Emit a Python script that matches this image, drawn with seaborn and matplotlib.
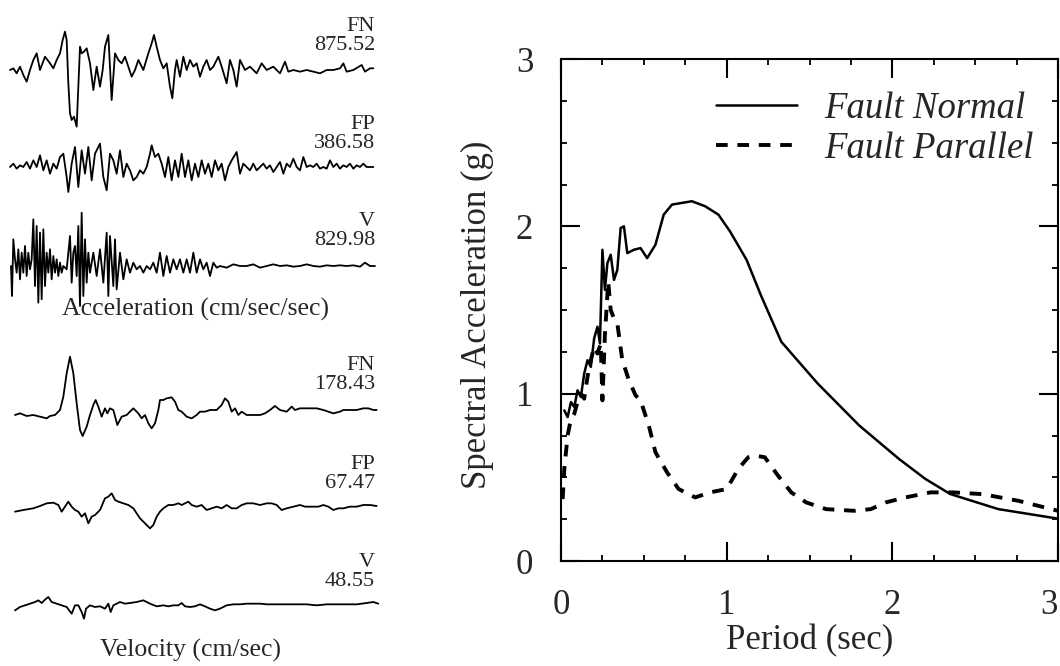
import numpy as np
import matplotlib
matplotlib.use("Agg")
import matplotlib.pyplot as plt
import matplotlib.transforms as mtransforms
from matplotlib.ticker import MultipleLocator
import seaborn as sns

# ---------------- data: spectral acceleration ----------------
period_fn = [0.02, 0.04, 0.06, 0.08, 0.10, 0.12, 0.14, 0.16, 0.18, 0.20, 0.22, 0.235,
             0.25, 0.265, 0.28, 0.30, 0.32, 0.34, 0.36, 0.38, 0.40, 0.44, 0.48, 0.52,
             0.57, 0.62, 0.67, 0.73, 0.79, 0.87, 0.95, 1.02, 1.12, 1.21, 1.33, 1.55,
             1.80, 2.04, 2.20, 2.35, 2.64, 3.02]
sa_fn = [0.90, 0.86, 0.95, 0.92, 1.02, 0.98, 1.12, 1.20, 1.16, 1.33, 1.40, 1.30,
         1.86, 1.62, 1.78, 1.83, 1.68, 1.74, 1.99, 2.00, 1.84, 1.86, 1.87, 1.81,
         1.89, 2.07, 2.13, 2.14, 2.15, 2.12, 2.07, 1.97, 1.80, 1.58, 1.31, 1.06,
         0.81, 0.61, 0.49, 0.40, 0.31, 0.25]

period_fp = [0.01, 0.02, 0.04, 0.06, 0.08, 0.10, 0.12, 0.14, 0.16, 0.18, 0.20, 0.22,
             0.24, 0.25, 0.265, 0.285, 0.30, 0.32, 0.34, 0.37, 0.41, 0.45, 0.48, 0.53,
             0.57, 0.64, 0.71, 0.81, 0.90, 1.00, 1.07, 1.13, 1.17, 1.23, 1.31, 1.39,
             1.48, 1.60, 1.77, 1.87, 1.96, 2.08, 2.23, 2.37, 2.54, 2.76, 3.00]
sa_fp = [0.37, 0.55, 0.75, 0.85, 0.88, 0.95, 1.00, 0.97, 1.10, 1.20, 1.28, 1.24,
         1.30, 0.96, 1.35, 1.67, 1.50, 1.45, 1.42, 1.20, 1.08, 0.99, 0.96, 0.81,
         0.65, 0.53, 0.43, 0.38, 0.41, 0.43, 0.55, 0.62, 0.63, 0.62, 0.51, 0.41,
         0.35, 0.31, 0.30, 0.31, 0.35, 0.38, 0.41, 0.41, 0.40, 0.36, 0.30]

# ---------------- data: time histories (relative amplitude) ----------------
t_acc_fn = [0.6, 0.8, 1.0, 1.2, 1.4, 1.6, 1.8, 2.0, 2.2, 2.4,
            2.7, 3.0, 3.2, 3.4, 3.6, 3.76, 3.9, 4.0, 4.1, 4.2,
            4.3, 4.44, 4.6, 4.7, 4.8, 4.9, 5.04, 5.2, 5.4, 5.6,
            5.8, 6.0, 6.16, 6.3, 6.5, 6.7, 6.9, 7.1, 7.3, 7.5,
            7.7, 7.9, 8.1, 8.3, 8.6, 8.9, 9.1, 9.24, 9.4, 9.6,
            9.8, 10.0, 10.2, 10.34, 10.5, 10.6, 10.8, 11.0, 11.2, 11.4,
            11.6, 11.8, 12.0, 12.2, 12.4, 12.6, 12.8, 13.1, 13.3, 13.6,
            13.8, 14.0, 14.2, 14.4, 14.7, 15.0, 15.4, 15.7, 16.0, 16.4,
            16.8, 17.1, 17.3, 17.6, 18.0, 18.4, 18.8, 19.2, 19.6, 20.0,
            20.4, 20.6, 20.8, 21.2, 21.7, 21.9, 22.2, 22.4]
acc_fn = [0, 5, -10, 10, -15, -35, 0, 30, 50, 0,
          40, 20, 5, 30, 50, 90, 115, 90, -40, -130,
          -150, -140, -170, -50, 70, 50, 55, 65, 20, -60,
          10, -50, 0, 70, 105, -90, 50, 30, 20, 40,
          10, -20, 0, 30, 0, 50, 80, 105, 70, 30,
          5, 20, -50, -85, 0, 30, -20, 40, 0, 30,
          10, 20, -20, 10, 30, 0, 10, 40, 10, -40,
          30, 0, -50, 30, 0, 10, -10, 20, 0, 10,
          -10, 25, -5, 0, -5, 0, -5, -10, 0, 0,
          5, 20, -5, 0, 15, -5, 5, 5]

t_acc_fp = [0.6, 0.8, 1.0, 1.2, 1.4, 1.6, 1.8, 2.0, 2.2, 2.4,
            2.6, 2.8, 3.0, 3.2, 3.4, 3.6, 3.8, 4.0, 4.1, 4.3,
            4.5, 4.7, 4.9, 5.1, 5.3, 5.5, 5.7, 6.0, 6.2, 6.4,
            6.6, 6.8, 7.0, 7.2, 7.4, 7.6, 7.8, 8.0, 8.2, 8.4,
            8.6, 8.8, 9.0, 9.1, 9.3, 9.5, 9.7, 9.9, 10.1, 10.3,
            10.5, 10.7, 10.9, 11.1, 11.3, 11.5, 11.7, 11.9, 12.1, 12.3,
            12.5, 12.7, 12.9, 13.1, 13.3, 13.5, 13.7, 13.9, 14.2, 14.4,
            14.6, 14.8, 15.0, 15.2, 15.4, 15.6, 15.8, 16.0, 16.2, 16.4,
            16.6, 16.8, 17.0, 17.2, 17.4, 17.6, 17.8, 18.0, 18.2, 18.4,
            18.6, 18.8, 19.0, 19.2, 19.4, 19.6, 19.8, 20.0, 20.2, 20.4,
            20.6, 20.8, 21.0, 21.2, 21.4, 21.6, 21.8, 22.0, 22.2, 22.4]
acc_fp = [0, 10, -5, 5, 0, 15, -5, 20, 0, 35,
          -10, 20, -20, 10, -5, 30, 40, -30, -75, 10,
          60, -60, 50, -20, 60, -40, 40, 70, -30, -70,
          40, 20, -20, 50, -30, 10, -10, -40, -30, -10,
          -20, 0, 40, 65, 30, 40, 10, -30, 30, -40,
          20, -30, 40, -30, 20, -40, 10, -30, 20, -20,
          10, -30, 20, -10, 10, -40, 0, 20, 45, -20,
          10, 0, -10, 10, -10, 0, 10, -5, 5, -15,
          0, 15, -20, 10, 0, 25, 0, -10, 30, 0,
          5, 0, 10, -5, 0, -5, 20, 0, 10, -5,
          5, 0, 10, -5, 5, 0, 10, 0, 0, 0]

t_acc_v = [0.66, 0.72, 0.8, 0.9, 1.0, 1.1, 1.2, 1.3, 1.4, 1.5,
           1.6, 1.7, 1.8, 1.9, 2.0, 2.1, 2.2, 2.3, 2.4, 2.5,
           2.6, 2.7, 2.8, 2.9, 3.0, 3.1, 3.2, 3.3, 3.4, 3.5,
           3.6, 3.7, 3.8, 4.0, 4.1, 4.2, 4.3, 4.4, 4.5, 4.6,
           4.7, 4.8, 4.9, 5.0, 5.1, 5.2, 5.3, 5.4, 5.6, 5.8,
           6.0, 6.2, 6.4, 6.5, 6.6, 6.8, 6.9, 7.0, 7.2, 7.4,
           7.6, 7.8, 8.0, 8.2, 8.4, 8.6, 8.8, 9.0, 9.2, 9.4,
           9.6, 9.8, 10.0, 10.2, 10.4, 10.6, 10.8, 11.0, 11.2, 11.4,
           11.6, 11.8, 12.0, 12.2, 12.4, 12.6, 12.8, 13.0, 13.2, 13.6,
           14.0, 14.4, 14.8, 15.2, 15.6, 16.0, 16.4, 16.8, 17.2, 17.6,
           18.0, 18.4, 18.8, 19.2, 19.6, 20.0, 20.4, 20.8, 21.2, 21.6,
           21.9, 22.2, 22.5]
acc_v = [0, -90, 80, 20, -20, 50, -40, 40, -20, 60,
         -30, 40, -10, 20, 140, -60, 120, -110, 100, -100,
         110, -60, 40, -20, 50, -40, 30, -20, 20, -30,
         10, -20, 0, -10, 40, 90, -50, 40, 60, -30,
         120, -120, 160, -90, 80, -50, 40, -20, 40, -30,
         50, -50, 100, -90, 90, -60, 80, -70, 40, -40,
         20, -20, 10, -10, 0, -20, 0, -10, 10, -20,
         40, -30, 30, -20, 20, -10, 20, -20, 20, -20,
         40, -20, 20, -10, 10, -30, 10, -5, 0, -5,
         5, 0, 0, 5, -5, 0, 5, 0, 2, -2,
         0, 5, 0, -2, 2, 0, 2, 0, 2, -2,
         10, 0, 0]

t_vel_fn = [0.9, 1.2, 1.6, 2.0, 2.4, 2.8, 3.0, 3.3, 3.6, 3.8,
            4.0, 4.2, 4.4, 4.6, 4.8, 4.96, 5.2, 5.4, 5.6, 5.74,
            5.9, 6.1, 6.3, 6.44, 6.6, 6.8, 7.04, 7.3, 7.6, 8.0,
            8.3, 8.5, 8.7, 8.9, 9.1, 9.3, 9.5, 9.6, 9.8, 10.0,
            10.3, 10.5, 10.7, 10.9, 11.2, 11.5, 11.8, 12.0, 12.3, 12.6,
            13.0, 13.3, 13.5, 13.7, 13.9, 14.1, 14.3, 14.5, 14.8, 15.2,
            15.6, 15.9, 16.2, 16.5, 16.8, 17.2, 17.5, 17.7, 18.0, 18.5,
            19.0, 19.4, 19.7, 20.0, 20.4, 20.6, 21.0, 21.4, 21.8, 22.1,
            22.4, 22.6]
vel_fn = [0, 5, -3, 0, -5, -10, -3, 0, 15, 55,
          125, 175, 125, 35, -45, -63, -35, 0, 30, 45,
          25, -5, 20, 5, 20, 15, -30, -5, 0, 20,
          5, -10, 0, -25, -40, -25, 15, 45, 45, 50,
          53, 40, 15, 10, -5, -10, 0, 10, 10, 15,
          15, 30, 50, 40, 10, 20, 0, 10, 0, 0,
          0, 5, 15, 27, 15, 10, 25, 15, 20, 20,
          20, 15, 10, 5, 10, 15, 15, 15, 20, 20,
          15, 15]

t_vel_fp = [0.9, 1.4, 2.0, 2.4, 2.8, 3.2, 3.5, 3.7, 3.9, 4.1,
            4.3, 4.5, 4.7, 4.9, 5.1, 5.3, 5.5, 5.7, 6.0, 6.3,
            6.5, 6.7, 6.9, 7.1, 7.4, 7.7, 8.0, 8.2, 8.4, 8.7,
            9.0, 9.2, 9.4, 9.6, 9.8, 10.1, 10.4, 10.7, 10.9, 11.1,
            11.3, 11.5, 11.8, 12.1, 12.4, 12.7, 13.0, 13.3, 13.6, 13.9,
            14.2, 14.5, 14.8, 15.2, 15.6, 16.0, 16.3, 16.6, 16.9, 17.2,
            17.6, 18.0, 18.3, 18.7, 19.1, 19.4, 19.7, 20.0, 20.3, 20.6,
            21.0, 21.4, 21.8, 22.2, 22.6]
vel_fp = [-5, 0, 5, 12, 20, 22, 15, -5, 10, 25,
          10, 0, -5, -20, -10, -40, -20, -15, 0, 35,
          40, 50, 30, 25, 20, 15, 5, -10, -25, -40,
          -55, -45, -20, -5, 5, 15, 15, 20, 15, 20,
          25, 15, 10, 15, 0, 5, 10, 5, 15, 5,
          5, 15, 20, 20, 15, 20, 20, 15, 0, 5,
          10, 15, 10, 10, 10, 15, 10, 0, 5, 5,
          10, 10, 15, 15, 12]

t_vel_v = [0.9, 1.2, 1.5, 1.8, 2.1, 2.3, 2.5, 2.7, 2.9, 3.1,
           3.4, 3.7, 4.0, 4.3, 4.5, 4.7, 4.9, 5.04, 5.16, 5.4,
           5.7, 6.0, 6.3, 6.5, 6.64, 6.8, 7.0, 7.2, 7.5, 7.8,
           8.2, 8.6, 9.0, 9.4, 9.8, 10.1, 10.4, 10.7, 10.9, 11.1,
           11.4, 11.7, 12.0, 12.3, 12.6, 12.9, 13.2, 13.6, 14.0, 14.4,
           14.8, 15.2, 15.6, 16.0, 16.6, 17.2, 17.8, 18.4, 19.0, 19.6,
           20.2, 20.8, 21.4, 22.0, 22.4, 22.7]
vel_v = [-10, 0, 5, 10, 15, 20, 12, 22, 30, 15,
         10, 5, 0, -20, 5, 5, -15, -35, -5, 5,
         0, 2, -5, 10, -15, 5, 10, 15, 10, 12,
         15, 20, 10, 2, 5, 2, 5, 5, 12, 2,
         0, 2, 8, 2, -5, -10, -5, 5, 8, 8,
         10, 10, 10, 8, 8, 8, 8, 8, 5, 8,
         8, 8, 8, 12, 15, 10]

components = ["FN", "FP", "V", "FN", "FP", "V"]
peak_values = ["875.52", "386.58", "829.98", "178.43", "67.47", "48.55"]
caption_acc = "Acceleration (cm/sec/sec)"
caption_vel = "Velocity (cm/sec)"

# ---------------- style ----------------
sns.set_style("ticks")
plt.rcParams["font.family"] = ["Liberation Serif", "DejaVu Serif"]
plt.rcParams["axes.linewidth"] = 1.5

W, H = 1060, 666
fig = plt.figure(figsize=(W / 100, H / 100), dpi=100)

# ---------------- left: traces ----------------
axL = fig.add_axes([0, 0, 400 / W, 1])
axL.set_xlim(0, 24)
axL.set_ylim(H, 0)
axL.axis("off")

traces = [(t_acc_fn, acc_fn), (t_acc_fp, acc_fp), (t_acc_v, acc_v),
          (t_vel_fn, vel_fn), (t_vel_fp, vel_fp), (t_vel_v, vel_v)]
baselines = [70, 167, 266, 415, 510, 607]
label_centers = [36, 134, 231, 375, 474, 572]
for (tt, amp), base, lc, comp, pk in zip(traces, baselines, label_centers,
                                          components, peak_values):
    yy = base - np.asarray(amp) / 3.0
    sns.lineplot(x=tt, y=yy, ax=axL, color="black", lw=1.3,
                 estimator=None, sort=False)
    axL.text(22.5, lc, f"{comp}\n{pk}", ha="right", va="center",
             fontsize=16, linespacing=0.95)

axL.text(11.7, 309, caption_acc, ha="center", va="center", fontsize=18.5)
axL.text(11.4, 650, caption_vel, ha="center", va="center", fontsize=18.5)

# ---------------- right: spectra ----------------
ax = fig.add_axes([561 / W, 1 - 561 / H, 497 / W, 502 / H])
sns.lineplot(x=period_fn, y=sa_fn, ax=ax, color="black", lw=1.8,
             estimator=None, sort=False, label="Fault Normal")
sns.lineplot(x=period_fp, y=sa_fp, ax=ax, color="black", lw=2.8,
             estimator=None, sort=False, label="Fault Parallel")
ax.lines[1].set_linestyle((0, (3, 2.5)))

ax.set_xlim(0, 3)
ax.set_ylim(0, 3)
ax.set_xticks([0, 1, 2, 3])
ax.set_yticks([0, 1, 2, 3])
ax.xaxis.set_minor_locator(MultipleLocator(0.25))
ax.yaxis.set_minor_locator(MultipleLocator(0.25))
ax.tick_params(which="both", direction="in", top=True, right=True,
               color="black")
ax.tick_params(which="major", length=14, width=1.5, labelsize=25, pad=20)
ax.tick_params(which="minor", length=4, width=1.3)
for s in ax.spines.values():
    s.set_color("black")
    s.set_linewidth(1.5)

# keep the last period label inside the figure edge
last_tick = ax.xaxis.get_major_ticks()[-1]
last_tick.label1.set_transform(
    last_tick.label1.get_transform()
    + mtransforms.ScaledTranslation(-9 / 100, 0, fig.dpi_scale_trans))

ax.set_xlabel("Period (sec)", fontsize=25)
ax.set_ylabel("Spectral Acceleration (g)", fontsize=25)
ax.xaxis.set_label_coords(0.5, -0.125)
ax.yaxis.set_label_coords(-0.135, 0.49)

leg = ax.legend(loc="upper left", bbox_to_anchor=(0.312, 0.935), frameon=False,
                prop={"family": "Liberation Serif", "style": "italic", "size": 26.5},
                handlelength=2.2, handletextpad=0.75, labelspacing=0.14,
                borderpad=0, borderaxespad=0)

fig.savefig("out.png", dpi=100)
